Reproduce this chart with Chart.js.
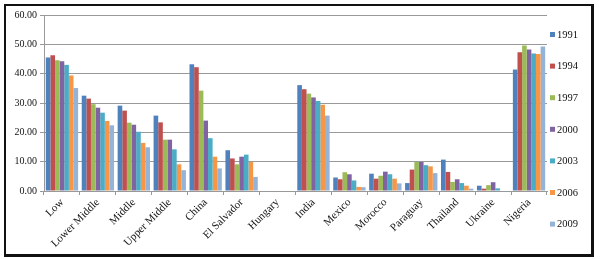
<!DOCTYPE html>
<html>
<head>
<meta charset="utf-8">
<script src="https://cdn.jsdelivr.net/npm/chart.js@4.4.0/dist/chart.umd.min.js"></script>
<style>
  html, body { margin: 0; padding: 0; background: #fff; }
  #wrap { position: relative; width: 606px; height: 259px; }
  #frame {
    position: absolute; left: 4px; top: 4px; width: 585px; height: 248px;
    border: 2px solid #111; border-right-width: 3px; border-bottom-width: 3px;
    pointer-events: none;
  }
  canvas { position: absolute; left: 0; top: 0; }
</style>
</head>
<body>
<div id="wrap">
  <canvas id="chart" width="606" height="259"></canvas>
  <div id="frame"></div>
</div>
<script>
// categories
const categories = ['Low', 'Lower Middle', 'Middle', 'Upper Middle', 'China', 'El Salvador',
  'Hungary', 'India', 'Mexico', 'Morocco', 'Paraguay', 'Thailand', 'Ukraine', 'Nigeria'];

// values, one array per year
const y1991 = [45.5, 32.5, 29.1, 25.7, 43.2, 13.9, null, 36.1, 4.6, 5.9, 2.7, 10.7, 1.8, 41.4];
const y1994 = [46.3, 31.5, 27.4, 23.4, 42.2, 11.1, null, 34.7, 4.0, 4.2, 7.3, 6.5, 0.8, 47.3];
const y1997 = [44.6, 29.6, 23.3, 17.5, 34.2, 9.1, null, 33.2, 6.4, 5.2, 9.9, 3.1, 2.0, 49.6];
const y2000 = [44.2, 28.4, 22.6, 17.5, 24.0, 11.7, null, 31.9, 5.7, 6.6, 9.9, 4.0, 3.0, 48.2];
const y2003 = [43.0, 26.7, 20.2, 14.2, 18.0, 12.4, null, 30.7, 3.6, 5.7, 8.8, 2.7, 0.9, 46.9];
const y2006 = [39.4, 23.9, 16.4, 9.1, 11.7, 9.9, null, 29.4, 1.4, 4.2, 8.4, 1.8, 0, 46.7];
const y2009 = [35.1, 22.4, 14.9, 7.1, 7.7, 4.8, null, 25.7, 1.3, 2.6, 6.1, 0.8, 0, 49.3];

const years = ['1991', '1994', '1997', '2000', '2003', '2006', '2009'];
const colors = ['#4F81BD', '#C0504D', '#9BBB59', '#8064A2', '#4BACC6', '#F79646', '#95B3D7'];
const series = [y1991, y1994, y1997, y2000, y2003, y2006, y2009];

const serif = '"Liberation Serif", "Times New Roman", serif';

// legend down the right side, spaced like the original
const sideLegend = {
  id: 'sideLegend',
  afterDraw(chart) {
    const ctx = chart.ctx;
    const area = chart.chartArea;
    ctx.save();
    ctx.font = '10.5px ' + serif;
    ctx.textBaseline = 'middle';
    ctx.textAlign = 'left';
    chart.data.datasets.forEach((ds, i) => {
      const y = area.top + 19.5 + i * 31.6;
      const x = area.right + 3;
      ctx.fillStyle = ds.backgroundColor;
      ctx.fillRect(x, y - 2.5, 5, 5);
      ctx.fillStyle = '#111';
      ctx.fillText(ds.label, x + 7, y + 0.5);
    });
    ctx.restore();
  }
};

new Chart(document.getElementById('chart'), {
  type: 'bar',
  data: {
    labels: categories,
    datasets: series.map((s, i) => ({
      label: years[i],
      data: s,
      backgroundColor: colors[i],
      borderWidth: 0,
      categoryPercentage: 0.9,
      barPercentage: 1.0
    }))
  },
  options: {
    responsive: false,
    animation: false,
    layout: { padding: { left: 0, top: 15, right: 59, bottom: 0 } },
    plugins: {
      legend: { display: false },
      tooltip: { enabled: false }
    },
    scales: {
      x: {
        grid: { drawOnChartArea: false, drawTicks: true, tickLength: 4, color: '#999' },
        border: { color: '#999' },
        ticks: {
          autoSkip: false, minRotation: 45, maxRotation: 45, padding: 1,
          color: '#111', font: { family: serif, size: 11 }
        },
        afterFit(scale) { scale.height = 68; }
      },
      y: {
        min: 0, max: 60,
        grid: { color: '#999', tickLength: 4 },
        border: { color: '#999' },
        ticks: {
          stepSize: 10, padding: 3, color: '#111',
          font: { family: serif, size: 10 },
          callback: v => v.toFixed(2)
        },
        afterFit(scale) { scale.width = 44; }
      }
    }
  },
  plugins: [sideLegend]
});
</script>
</body>
</html>
